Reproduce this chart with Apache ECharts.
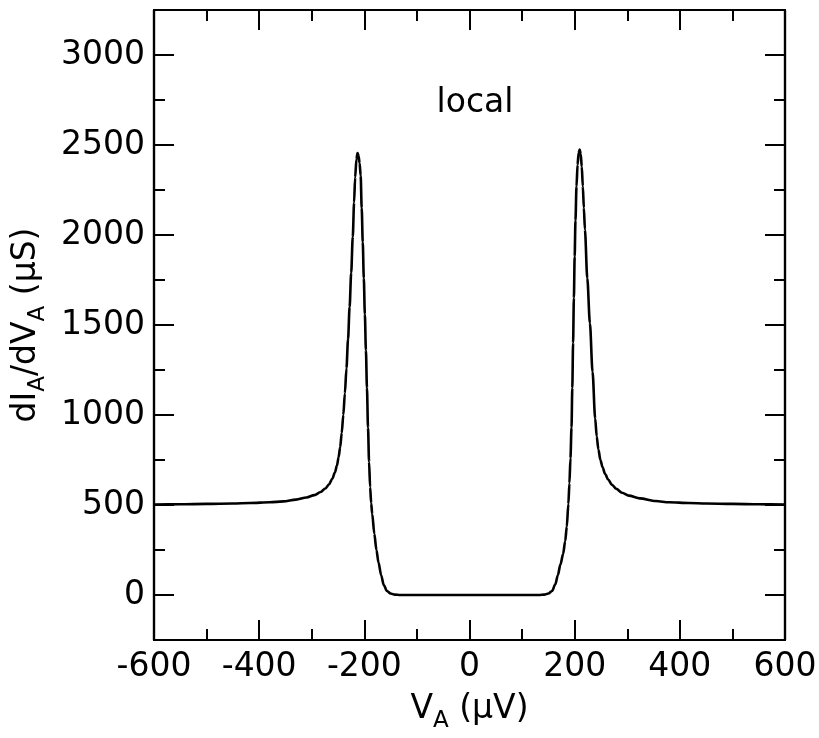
<!DOCTYPE html>
<html>
<head>
<meta charset="utf-8">
<script src="https://cdn.jsdelivr.net/npm/echarts@6/dist/echarts.min.js"></script>
<style>
  html, body { margin: 0; padding: 0; background: #ffffff; }
  #chart { width: 819px; height: 738px; }
</style>
</head>
<body>
<div id="chart"></div>
<script>
// Bias voltage V_A (µV) and differential conductance dI_A/dV_A (µS), local measurement
const voltage = [
  -600, -550, -500, -450, -417, -380, -354, -330, -310, -295, -283, -274, -267, -261, -256,
  -252, -249, -246, -243, -240, -237, -234, -231, -228, -225, -222, -219.5, -217.5, -215,
  -213, -211, -209, -207, -205, -203, -201, -199, -197, -195, -193, -191, -189, -187, -185,
  -181, -177, -173, -168, -163, -157, -150, -142, -132,
  -100, -50, 0, 50, 100,
  132, 142, 150, 157, 163, 168, 173, 178, 182, 185, 188, 190, 192, 194, 195.5, 197, 198.5,
  200, 201.5, 203.5, 205.5, 207.5, 209.5, 211.5, 213.5, 215.5, 217.5, 219.5, 224, 229, 234,
  239, 242, 245, 249, 253, 258, 264, 271, 279, 290, 303, 324, 354, 380, 417, 450, 500, 550, 600
];
const conductance = [
  503, 504, 506, 508, 511, 515, 520, 530, 542, 555, 572, 592, 615, 645, 680,
  720, 765, 820, 900, 1000, 1120, 1260, 1420, 1600, 1790, 1990, 2180, 2320, 2420,
  2455, 2440, 2400, 2330, 2150, 1960, 1760, 1560, 1360, 1150, 930, 740, 600, 510, 450,
  340, 250, 180, 110, 55, 22, 8, 2, 0,
  0, 0, 0, 0, 0,
  0, 2, 8, 22, 58, 110, 170, 228, 300, 380, 505, 620, 760, 930, 1150, 1400, 1650,
  1880, 2080, 2270, 2390, 2455, 2475, 2450, 2380, 2270, 2150, 2030, 1760, 1510, 1240,
  980, 880, 810, 750, 710, 672, 640, 612, 590, 568, 552, 537, 522, 515, 511, 508, 506, 504, 503
];

const xTicks = [-600, -400, -200, 0, 200, 400, 600];
const yTicks = [0, 500, 1000, 1500, 2000, 2500, 3000];
const yMinorTicks = [250, 750, 1250, 1750, 2250, 2750];
const annotation = 'local';

const FONT = 'DejaVu Sans';
const FS = 33;
const SUB = 23;
const INK = '#000000';

const chart = echarts.init(document.getElementById('chart'), null, { renderer: 'canvas' });

const axisLineStyle = { show: true, onZero: false, lineStyle: { color: INK, width: 2.2 } };

// main text and lowered subscript
const titleRich = {
  m: { fontFamily: FONT, fontSize: FS, color: INK, lineHeight: 40, verticalAlign: 'top' },
  s: { fontFamily: FONT, fontSize: SUB, color: INK, lineHeight: 24, verticalAlign: 'top', padding: [17, 0, 0, 0] }
};

function xAxisDef(position, showLabel) {
  return {
    type: 'value', position: position, min: -600, max: 600, interval: 200,
    axisLine: axisLineStyle,
    axisTick: { show: true, inside: true, length: 20, lineStyle: { color: INK, width: 2 } },
    minorTick: { show: true, splitNumber: 2, length: 11, lineStyle: { color: INK, width: 2 } },
    splitLine: { show: false }, minorSplitLine: { show: false },
    axisLabel: {
      show: showLabel, color: INK, fontFamily: FONT, fontSize: FS, margin: 11,
      customValues: xTicks, formatter: v => String(v)
    }
  };
}

function yAxisDef(position, values, len, showLabel) {
  return {
    type: 'value', position: position, min: -250, max: 3250,
    axisLine: axisLineStyle,
    axisTick: { show: true, inside: true, length: len, customValues: values, lineStyle: { color: INK, width: 2 } },
    splitLine: { show: false },
    axisLabel: {
      show: showLabel, color: INK, fontFamily: FONT, fontSize: FS, margin: 9,
      customValues: values, formatter: v => String(v)
    }
  };
}

const xMain = xAxisDef('bottom', true);
xMain.name = '{m|V}{s|A}{m| (μV)}';
xMain.nameLocation = 'middle';
xMain.nameGap = 53;
xMain.nameTextStyle = { color: INK, fontFamily: FONT, rich: titleRich };

const yMain = yAxisDef('left', yTicks, 20, true);
yMain.name = '{m|dI}{s|A}{m|/dV}{s|A}{m| (μS)}';
yMain.nameLocation = 'middle';
yMain.nameGap = 104;
yMain.nameRotate = 90;
yMain.nameTextStyle = { color: INK, fontFamily: FONT, rich: titleRich };

const option = {
  backgroundColor: '#ffffff',
  animation: false,
  grid: { left: 154, right: 34, top: 10, bottom: 98, containLabel: false, outerBoundsMode: 'none' },
  title: {
    text: annotation, left: 470, top: 82, textAlign: 'center',
    textStyle: { fontFamily: FONT, fontSize: FS, fontWeight: 'normal', color: INK }
  },
  xAxis: [xMain, xAxisDef('top', false)],
  yAxis: [
    yMain,
    yAxisDef('left', yMinorTicks, 11, false),
    yAxisDef('right', yTicks, 20, false),
    yAxisDef('right', yMinorTicks, 11, false)
  ],
  series: [{
    type: 'line',
    xAxisIndex: 0, yAxisIndex: 0,
    data: voltage.map((v, i) => [v, conductance[i]]),
    showSymbol: false,
    smooth: 0.3,
    smoothMonotone: 'x',
    clip: true,
    lineStyle: { color: INK, width: 2.6 }
  }]
};

chart.setOption(option);
</script>
</body>
</html>
